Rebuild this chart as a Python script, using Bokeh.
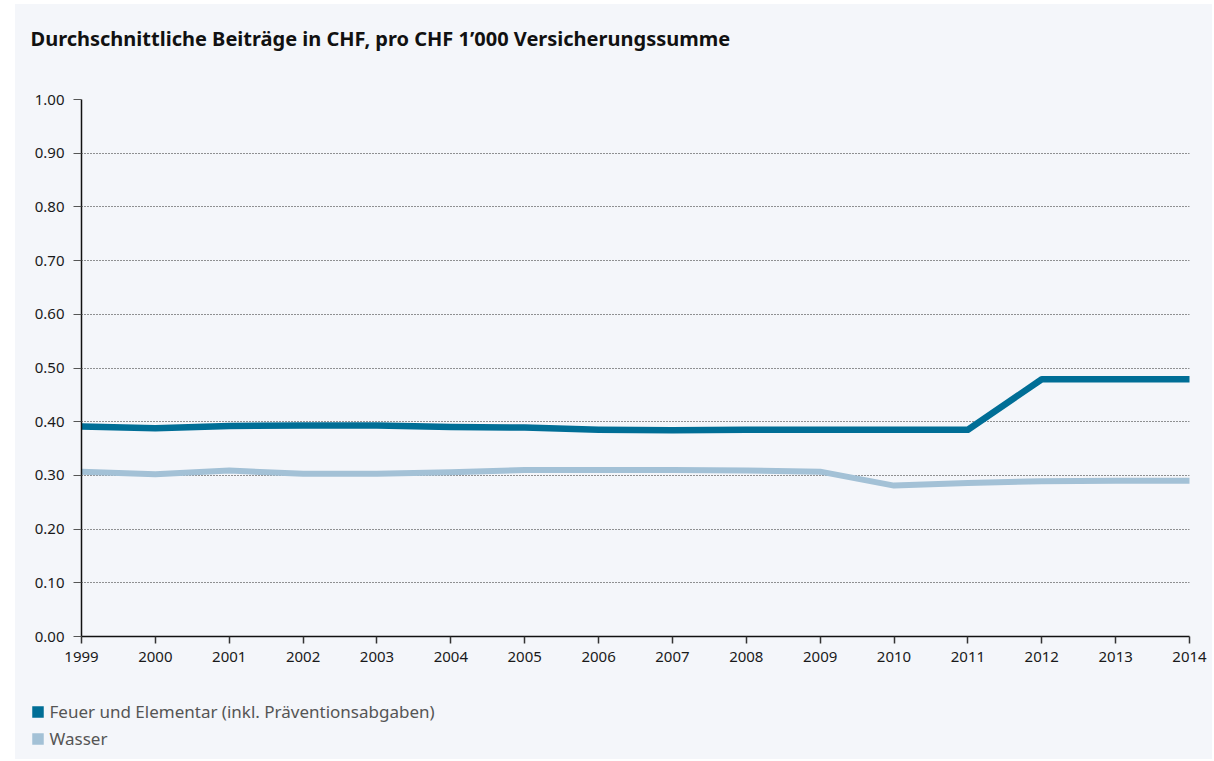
from bokeh.plotting import figure
from bokeh.models import FixedTicker, CustomJSTickFormatter, Range1d
from bokeh.layouts import column
from bokeh.core.properties import value
from bokeh.embed import file_html
from bokeh.resources import INLINE

years = list(range(1999, 2015))
feuer = [0.391, 0.388, 0.392, 0.393, 0.393, 0.390, 0.389, 0.385, 0.384, 0.385, 0.385, 0.385, 0.385, 0.479, 0.479, 0.479]
wasser = [0.307, 0.302, 0.309, 0.303, 0.303, 0.306, 0.310, 0.310, 0.310, 0.309, 0.307, 0.281, 0.286, 0.289, 0.290, 0.290]
y_ticks = [0.0, 0.1, 0.2, 0.3, 0.4, 0.5, 0.6, 0.7, 0.8, 0.9, 1.0]
title_text = "Durchschnittliche Beiträge in CHF, pro CHF 1’000 Versicherungssumme"
legend_labels = ["Feuer und Elementar (inkl. Präventionsabgaben)", "Wasser"]

c_feuer = "#006e96"
c_wasser = "#a3c1d6"
bg = "#f4f6fa"
font = "Noto Sans"
OX, OY = 15, 4          # panel offset on the page
W = 1197


def strip(h):
    s = figure(width=W, height=h, output_backend="svg", toolbar_location=None,
               x_range=Range1d(0, W), y_range=Range1d(h, 0),
               x_axis_location=None, y_axis_location=None, min_border=0)
    s.background_fill_color = bg
    s.border_fill_color = bg
    s.outline_line_color = None
    s.grid.visible = False
    s.frame_align = False
    return s


# title strip (pixel coordinates, y downward)
TH = 70
t = strip(TH)
t.text(x=[30 - OX], y=[45 - OY - 7], text=[title_text], text_baseline="alphabetic",
       text_font=value(font), text_font_style="bold", text_font_size=value("20px"),
       text_color="#111111")

# main chart
PH = 606
p = figure(width=W, height=PH, output_backend="svg", toolbar_location=None,
           x_range=(1999, 2014), y_range=(0, 1.0),
           min_border_left=81 - OX, min_border_right=OX + W - 1189,
           min_border_top=99 - OY - TH, min_border_bottom=PH - (636 - OY - TH))
p.background_fill_color = bg
p.border_fill_color = bg
p.outline_line_color = None
p.frame_align = False

p.line(years, wasser, line_color=c_wasser, line_width=6, line_cap="round", line_join="round")
p.line(years, feuer, line_color=c_feuer, line_width=6.5, line_cap="round", line_join="round")

p.xgrid.grid_line_color = None
p.ygrid.ticker = FixedTicker(ticks=y_ticks)
p.ygrid.grid_line_color = "#2a2a2a"
p.ygrid.grid_line_dash = "1 2"
p.ygrid.grid_line_width = 1

p.xaxis.ticker = FixedTicker(ticks=years)
p.yaxis.ticker = FixedTicker(ticks=y_ticks)
p.yaxis.formatter = CustomJSTickFormatter(code="return tick.toFixed(2);")
for ax in (p.xaxis[0], p.yaxis[0]):
    ax.axis_line_color = "#111111"
    ax.axis_line_width = 1.5
    ax.major_tick_line_color = "#333333"
    ax.major_tick_line_width = 1.5
    ax.major_tick_out = 7
    ax.major_tick_in = 0
    ax.minor_tick_line_color = None
    ax.major_label_text_font = font
    ax.major_label_text_font_size = "15px"
    ax.major_label_text_color = "#1a1a1a"
p.yaxis.major_tick_line_color = "#555555"
p.yaxis.major_tick_line_width = 1
p.yaxis.major_tick_out = 8
p.yaxis.major_label_standoff = 9
p.xaxis.major_label_standoff = 8

# legend strip
LH = 79
top = OY + TH + PH
q = strip(LH)
q.scatter(x=[37.5 - OX, 37.5 - OX], y=[711.5 - top, 738.5 - top], marker="square", size=11.5,
          fill_color=[c_feuer, c_wasser], line_color=None)
q.text(x=[49 - OX, 49 - OX], y=[717 - top - 6, 744 - top - 6], text=legend_labels,
       text_baseline="alphabetic",
       text_font=value(font), text_font_size=value("17px"), text_color="#555555")

layout = column(t, p, q, spacing=0, margin=(OY, 0, 0, OX),
                styles={"background-color": bg})
open("out.html", "w").write(file_html(layout, INLINE))
